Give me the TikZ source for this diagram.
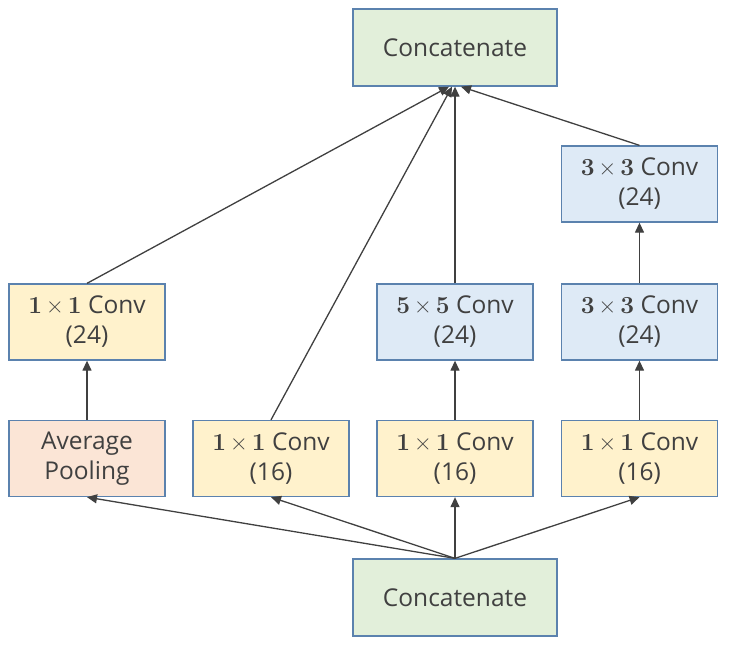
\documentclass[tikz,border=0pt]{standalone}
\usepackage[no-math]{fontspec}
\setmainfont{Open Sans}
\newfontfamily\lmfont{Latin Modern Roman}
\usetikzlibrary{arrows.meta}
\definecolor{bordc}{HTML}{5B82AE}
\definecolor{txtc}{HTML}{404040}
\definecolor{greenf}{HTML}{E2EFDA}
\definecolor{yellowf}{HTML}{FFF2CC}
\definecolor{bluef}{HTML}{DEEAF6}
\definecolor{pinkf}{HTML}{FBE5D6}
\newcommand{\mxm}[1]{{\lmfont\bfseries #1\,\mdseries ×\,\bfseries #1}}
\begin{document}
\begin{tikzpicture}[x=1pt,y=-1pt,
  box/.style={draw=bordc,line width=1.3pt,text=txtc,align=center,inner sep=0pt,
    minimum width=156pt,minimum height=76pt,font=\fontsize{24.5}{30}\selectfont},
  bigbox/.style={box,minimum width=204pt,minimum height=77pt,fill=greenf},
  ybox/.style={box,fill=yellowf},
  bbox/.style={box,fill=bluef},
  pbox/.style={box,fill=pinkf},
  arr/.style={draw=txtc,line width=1.3pt,-{Triangle[length=10pt,width=9pt]}}]
\useasboundingbox (0,0) rectangle (733,654);
\node[bigbox] (top) at (455,47.5) {Concatenate};
\node[bbox] (c33b) at (639.5,184) {\mxm{3} Conv\\(24)};
\node[ybox] (c11a) at (87,322) {\mxm{1} Conv\\(24)};
\node[bbox] (c55) at (455,322) {\mxm{5} Conv\\(24)};
\node[bbox] (c33a) at (639.5,322) {\mxm{3} Conv\\(24)};
\node[pbox] (pool) at (87,458.5) {Average\\Pooling};
\node[ybox] (c11b) at (271,458.5) {\mxm{1} Conv\\(16)};
\node[ybox] (c11c) at (455,458.5) {\mxm{1} Conv\\(16)};
\node[ybox] (c11d) at (639.5,458.5) {\mxm{1} Conv\\(16)};
\node[bigbox] (bot) at (455,597.5) {Concatenate};
\coordinate (t1) at ([xshift=-6pt]top.south);
\coordinate (t2) at ([xshift=-3pt]top.south);
\coordinate (t4) at ([xshift=6pt]top.south);
% bottom fan-out
\draw[arr] (bot.north) -- (pool.south);
\draw[arr] (bot.north) -- (c11b.south);
\draw[arr] (bot.north) -- (c11c.south);
\draw[arr] (bot.north) -- (c11d.south);
% vertical chains
\draw[arr] (pool.north) -- (c11a.south);
\draw[arr] (c11c.north) -- (c55.south);
\draw[arr] (c11d.north) -- (c33a.south);
\draw[arr] (c33a.north) -- (c33b.south);
% to top
\draw[arr] (c11a.north) -- (t1);
\draw[arr] (c11b.north) -- (t2);
\draw[arr] (c55.north) -- (top.south);
\draw[arr] (c33b.north) -- (t4);
\end{tikzpicture}
\end{document}
